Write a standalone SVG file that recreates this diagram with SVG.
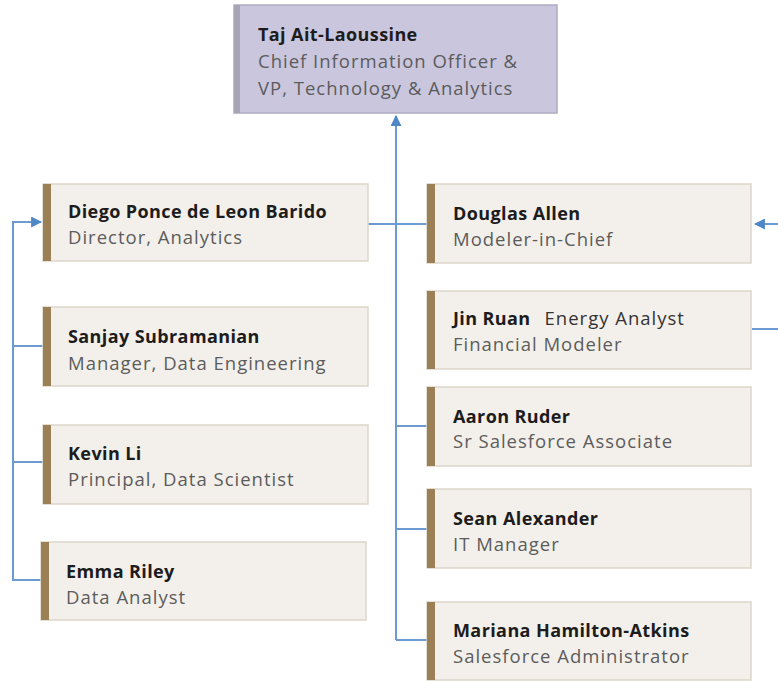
<svg xmlns="http://www.w3.org/2000/svg" width="778" height="681" viewBox="0 0 778 681">
<style>
.box{fill:#f3f0eb;stroke:#dcd6cc;stroke-width:1.5}
.bar{fill:#9b8055}
.nm{font-family:"Open Sans","Liberation Sans",sans-serif;font-weight:bold;font-size:18px;letter-spacing:0.4px;fill:#1c1c1c}
.tt{font-family:"Open Sans","Liberation Sans",sans-serif;font-size:18.5px;letter-spacing:1px;fill:#5c5c5c}
.ln{fill:none;stroke:#6b9bd2;stroke-width:2}
</style>
<defs>
<marker id="ah" viewBox="0 0 10 10" refX="9" refY="5" markerWidth="5.5" markerHeight="5.5" orient="auto" markerUnits="strokeWidth">
<path d="M0,0 L10,5 L0,10 z" fill="#4f86c6"/>
</marker>
</defs>
<rect width="778" height="681" fill="#ffffff"/>

<g id="connectors">
<polyline class="ln" points="396,640 396,116" marker-end="url(#ah)"/>
<line class="ln" x1="368" y1="224" x2="428" y2="224"/>
<line class="ln" x1="396" y1="426" x2="428" y2="426"/>
<line class="ln" x1="396" y1="529" x2="428" y2="529"/>
<line class="ln" x1="396" y1="640" x2="428" y2="640"/>
<polyline class="ln" points="43,580 13,580 13,222 41,222" marker-end="url(#ah)"/>
<line class="ln" x1="13" y1="346" x2="43" y2="346"/>
<line class="ln" x1="13" y1="462" x2="43" y2="462"/>
<line class="ln" x1="778" y1="224" x2="755" y2="224" marker-end="url(#ah)"/>
<line class="ln" x1="752" y1="329" x2="778" y2="329"/>
</g>

<g id="taj">
<rect x="234" y="5" width="323" height="108" fill="#c9c6de" stroke="#aeabc2" stroke-width="1.5"/>
<rect x="234" y="5" width="6" height="108" fill="#a7a5b5"/>
<text class="nm" x="258" y="41">Taj Ait-Laoussine</text>
<text class="tt" x="258" y="68">Chief Information Officer &amp;</text>
<text class="tt" x="258" y="95">VP, Technology &amp; Analytics</text>
</g>

<g id="diego">
<rect class="box" x="43" y="184" width="325" height="77"/>
<rect class="bar" x="43" y="184" width="8" height="77"/>
<text class="nm" x="68" y="218">Diego Ponce de Leon Barido</text>
<text class="tt" x="68" y="244">Director, Analytics</text>
</g>

<g id="sanjay">
<rect class="box" x="43" y="307" width="325" height="79"/>
<rect class="bar" x="43" y="307" width="8" height="79"/>
<text class="nm" x="68" y="343">Sanjay Subramanian</text>
<text class="tt" x="68" y="370">Manager, Data Engineering</text>
</g>

<g id="kevin">
<rect class="box" x="43" y="425" width="325" height="79"/>
<rect class="bar" x="43" y="425" width="8" height="79"/>
<text class="nm" x="68" y="460">Kevin Li</text>
<text class="tt" x="68" y="486">Principal, Data Scientist</text>
</g>

<g id="emma">
<rect class="box" x="41" y="542" width="325" height="78"/>
<rect class="bar" x="41" y="542" width="8" height="78"/>
<text class="nm" x="66" y="578">Emma Riley</text>
<text class="tt" x="66" y="604">Data Analyst</text>
</g>

<g id="douglas">
<rect class="box" x="427" y="184" width="324" height="79"/>
<rect class="bar" x="427" y="184" width="8" height="79"/>
<text class="nm" x="453" y="220">Douglas Allen</text>
<text class="tt" x="453" y="246">Modeler-in-Chief</text>
</g>

<g id="jin">
<rect class="box" x="427" y="291" width="324" height="78"/>
<rect class="bar" x="427" y="291" width="8" height="78"/>
<text x="453" y="325"><tspan class="nm">Jin Ruan</tspan><tspan class="tt" dx="14" style="fill:#333">Energy Analyst</tspan></text>
<text class="tt" x="453" y="351">Financial Modeler</text>
</g>

<g id="aaron">
<rect class="box" x="427" y="387" width="324" height="79"/>
<rect class="bar" x="427" y="387" width="8" height="79"/>
<text class="nm" x="453" y="423">Aaron Ruder</text>
<text class="tt" x="453" y="448">Sr Salesforce Associate</text>
</g>

<g id="sean">
<rect class="box" x="427" y="489" width="324" height="79"/>
<rect class="bar" x="427" y="489" width="8" height="79"/>
<text class="nm" x="453" y="525">Sean Alexander</text>
<text class="tt" x="453" y="551">IT Manager</text>
</g>

<g id="mariana">
<rect class="box" x="427" y="602" width="324" height="78"/>
<rect class="bar" x="427" y="602" width="8" height="78"/>
<text class="nm" x="453" y="637">Mariana Hamilton-Atkins</text>
<text class="tt" x="453" y="663">Salesforce Administrator</text>
</g>
</svg>
